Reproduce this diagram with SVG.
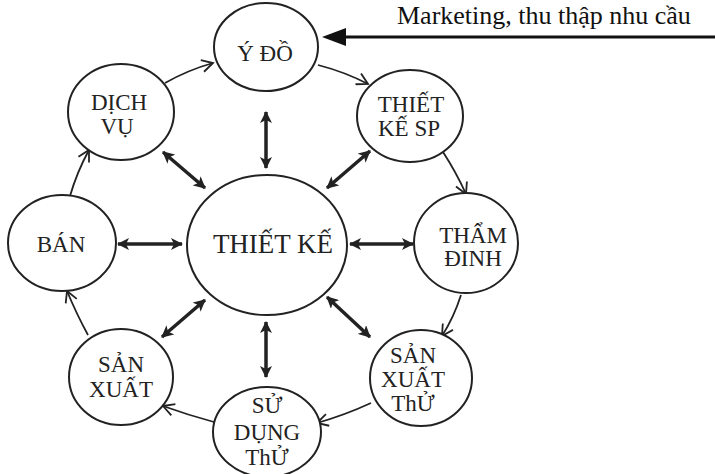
<svg xmlns="http://www.w3.org/2000/svg" width="715" height="474" viewBox="0 0 715 474">
  <style>
    .node ellipse { fill: #fff; stroke: #222; stroke-width: 2; }
    .node text { font-family: "Liberation Serif", "Times New Roman", serif; font-size: 23px; fill: #222; text-anchor: middle; }
    #n-center text { font-size: 27px; }
    .cycle path { fill: none; stroke: #222; stroke-width: 1.8; marker-end: url(#open); }
    .spoke line { stroke: #222; stroke-width: 3.5; marker-start: url(#solid); marker-end: url(#solid); }
    .label { font-family: "Liberation Serif", "Times New Roman", serif; font-size: 26px; fill: #111; }
  </style>
  <defs>
    <marker id="open" viewBox="0 0 14 14" refX="12" refY="7" markerWidth="14" markerHeight="14" markerUnits="userSpaceOnUse" orient="auto">
      <path d="M1,1 L12,7 L1,13" fill="none" stroke="#222" stroke-width="1.8"/>
    </marker>
    <marker id="solid" viewBox="0 0 12 12" refX="11" refY="6" markerWidth="12" markerHeight="12" markerUnits="userSpaceOnUse" orient="auto-start-reverse">
      <path d="M0,0 L12,6 L0,12 L3,6 Z" fill="#222"/>
    </marker>
  </defs>

  <rect width="715" height="474" fill="#fff"/>

  <!-- connectors -->
  <g id="connectors">
    <g class="cycle">
      <path d="M165,83 Q188,70 213,63"/>
      <path d="M318,65 Q345,72 368,84"/>
      <path d="M443,152 Q456,172 466,194"/>
      <path d="M461,295 Q454,317 442,336"/>
      <path d="M371,403 Q345,415 317,423"/>
      <path d="M214,422 Q188,415 163,406"/>
      <path d="M88,335 Q77,315 67,291"/>
      <path d="M70,196 Q77,172 89,150"/>
    </g>
    <g class="spoke">
      <line x1="266" y1="112" x2="266" y2="168"/>
      <line x1="327" y1="188" x2="370" y2="151"/>
      <line x1="350" y1="244" x2="413" y2="244"/>
      <line x1="327" y1="297" x2="370" y2="337"/>
      <line x1="266" y1="322" x2="266" y2="377"/>
      <line x1="205" y1="300" x2="162" y2="337"/>
      <line x1="182" y1="244" x2="118" y2="244"/>
      <line x1="205" y1="188" x2="163" y2="152"/>
    </g>
    <!-- incoming input to the idea node -->
    <line x1="715" y1="37" x2="340" y2="37" stroke="#111" stroke-width="3"/>
    <polygon points="322,37 346,28 346,46" fill="#111"/>
  </g>

  <text class="label" x="397" y="24">Marketing, thu thập nhu cầu</text>

  <g id="n-center" class="node">
    <ellipse cx="267" cy="245" rx="80" ry="70"/>
    <text x="273" y="253">THIẾT KẾ</text>
  </g>
  <g id="n-ydo" class="node">
    <ellipse cx="266" cy="47" rx="52" ry="44"/>
    <text x="265" y="61">Ý ĐỒ</text>
  </g>
  <g id="n-tksp" class="node">
    <ellipse cx="410" cy="116" rx="53" ry="46"/>
    <text x="411" y="112">THIẾT</text>
    <text x="409" y="136">KẾ SP</text>
  </g>
  <g id="n-thamdinh" class="node">
    <ellipse cx="466" cy="243" rx="52" ry="50"/>
    <text x="473" y="243">THẨM</text>
    <text x="473" y="266">ĐINH</text>
  </g>
  <g id="n-sxthu" class="node">
    <ellipse cx="421" cy="378" rx="51" ry="48"/>
    <text x="413" y="363">SẢN</text>
    <text x="413" y="387">XUẤT</text>
    <text x="413" y="411">ThỬ</text>
  </g>
  <g id="n-sdthu" class="node">
    <ellipse cx="267" cy="432" rx="54" ry="45"/>
    <text x="267" y="413">SỬ</text>
    <text x="267" y="440">DỤNG</text>
    <text x="267" y="465">ThỬ</text>
  </g>
  <g id="n-sanxuat" class="node">
    <ellipse cx="121" cy="377" rx="52" ry="48"/>
    <text x="121" y="372">SẢN</text>
    <text x="121" y="397">XUẤT</text>
  </g>
  <g id="n-ban" class="node">
    <ellipse cx="62" cy="243" rx="54" ry="48"/>
    <text x="61" y="252">BÁN</text>
  </g>
  <g id="n-dichvu" class="node">
    <ellipse cx="121" cy="112" rx="53" ry="48"/>
    <text x="119" y="110">DỊCH</text>
    <text x="117" y="134">VỤ</text>
  </g>
</svg>
